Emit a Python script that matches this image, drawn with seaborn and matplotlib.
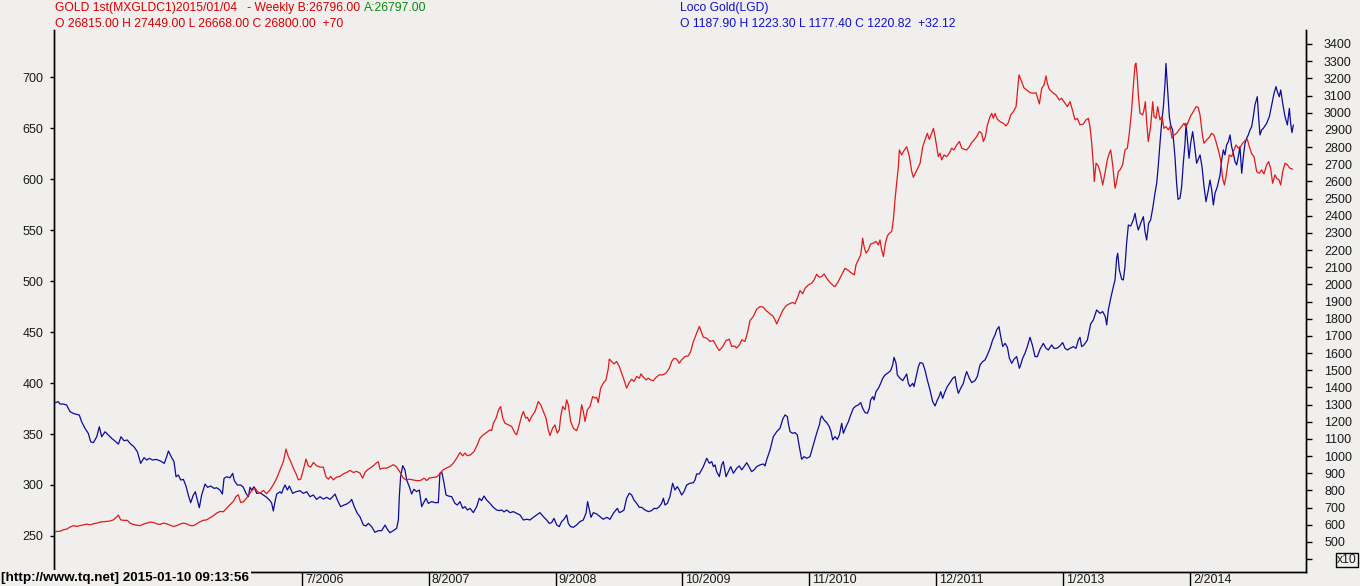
import matplotlib
matplotlib.use("Agg")
import matplotlib.pyplot as plt
import matplotlib.transforms as mtransforms
import seaborn as sns

# Loco Gold (left scale); x is decimal year
loco_year = [
    2004.392, 2004.420, 2004.434, 2004.463, 2004.491, 2004.520, 2004.548, 2004.577, 2004.599, 2004.619,
    2004.648, 2004.676, 2004.696, 2004.719, 2004.748, 2004.770, 2004.790, 2004.819, 2004.847, 2004.876,
    2004.904, 2004.933, 2004.955, 2004.981, 2005.009, 2005.038, 2005.066, 2005.095, 2005.123, 2005.152,
    2005.175, 2005.197, 2005.226, 2005.254, 2005.288, 2005.325, 2005.345, 2005.360, 2005.388, 2005.408,
    2005.425, 2005.445, 2005.465, 2005.488, 2005.510, 2005.530, 2005.550, 2005.573, 2005.590, 2005.607,
    2005.624, 2005.644, 2005.673, 2005.695, 2005.721, 2005.750, 2005.772, 2005.801, 2005.821, 2005.835,
    2005.858, 2005.886, 2005.909, 2005.923, 2005.949, 2005.977, 2006.000, 2006.023, 2006.043, 2006.057,
    2006.071, 2006.091, 2006.114, 2006.142, 2006.171, 2006.199, 2006.228, 2006.242, 2006.256, 2006.270,
    2006.285, 2006.313, 2006.327, 2006.342, 2006.356, 2006.376, 2006.393, 2006.421, 2006.450, 2006.484,
    2006.512, 2006.541, 2006.569, 2006.598, 2006.626, 2006.655, 2006.683, 2006.712, 2006.740, 2006.763,
    2006.783, 2006.803, 2006.831, 2006.860, 2006.882, 2006.911, 2006.925, 2006.945, 2006.973, 2006.996,
    2007.025, 2007.047, 2007.068, 2007.096, 2007.124, 2007.153, 2007.181, 2007.210, 2007.230, 2007.252,
    2007.281, 2007.309, 2007.324, 2007.332, 2007.343, 2007.361, 2007.380, 2007.395, 2007.417, 2007.437,
    2007.457, 2007.480, 2007.503, 2007.523, 2007.537, 2007.560, 2007.580, 2007.608, 2007.637, 2007.665,
    2007.679, 2007.696, 2007.714, 2007.731, 2007.751, 2007.779, 2007.807, 2007.827, 2007.850, 2007.873,
    2007.893, 2007.913, 2007.936, 2007.964, 2007.993, 2008.015, 2008.035, 2008.055, 2008.078, 2008.106,
    2008.135, 2008.163, 2008.186, 2008.206, 2008.226, 2008.249, 2008.277, 2008.306, 2008.334, 2008.363,
    2008.391, 2008.420, 2008.448, 2008.476, 2008.505, 2008.533, 2008.562, 2008.590, 2008.613, 2008.633,
    2008.653, 2008.676, 2008.698, 2008.718, 2008.738, 2008.761, 2008.775, 2008.795, 2008.818, 2008.846,
    2008.875, 2008.903, 2008.926, 2008.940, 2008.955, 2008.969, 2008.989, 2009.017, 2009.046, 2009.074,
    2009.103, 2009.131, 2009.160, 2009.182, 2009.194, 2009.211, 2009.231, 2009.251, 2009.273, 2009.296,
    2009.316, 2009.336, 2009.359, 2009.382, 2009.401, 2009.430, 2009.458, 2009.487, 2009.507, 2009.530,
    2009.552, 2009.572, 2009.587, 2009.601, 2009.621, 2009.643, 2009.666, 2009.686, 2009.706, 2009.723,
    2009.743, 2009.763, 2009.786, 2009.814, 2009.843, 2009.857, 2009.871, 2009.894, 2009.928, 2009.957,
    2009.980, 2010.000, 2010.014, 2010.028, 2010.042, 2010.065, 2010.085, 2010.099, 2010.122, 2010.142,
    2010.162, 2010.185, 2010.213, 2010.236, 2010.256, 2010.276, 2010.299, 2010.321, 2010.341, 2010.361,
    2010.384, 2010.412, 2010.441, 2010.455, 2010.469, 2010.498, 2010.526, 2010.555, 2010.583, 2010.606,
    2010.626, 2010.646, 2010.654, 2010.669, 2010.691, 2010.711, 2010.731, 2010.748, 2010.768, 2010.788,
    2010.811, 2010.839, 2010.868, 2010.896, 2010.919, 2010.930, 2010.939, 2010.959, 2010.982, 2011.004,
    2011.019, 2011.033, 2011.053, 2011.073, 2011.090, 2011.110, 2011.124, 2011.147, 2011.167, 2011.187,
    2011.209, 2011.232, 2011.252, 2011.272, 2011.289, 2011.309, 2011.329, 2011.346, 2011.357, 2011.375,
    2011.386, 2011.403, 2011.423, 2011.443, 2011.460, 2011.480, 2011.508, 2011.528, 2011.545, 2011.557,
    2011.574, 2011.585, 2011.608, 2011.631, 2011.651, 2011.665, 2011.679, 2011.693, 2011.716, 2011.727,
    2011.745, 2011.765, 2011.779, 2011.802, 2011.821, 2011.841, 2011.864, 2011.887, 2011.907, 2011.927,
    2011.944, 2011.955, 2011.972, 2011.992, 2012.012, 2012.035, 2012.058, 2012.078, 2012.092, 2012.106,
    2012.126, 2012.149, 2012.163, 2012.177, 2012.200, 2012.220, 2012.248, 2012.268, 2012.291, 2012.314,
    2012.334, 2012.354, 2012.377, 2012.399, 2012.419, 2012.433, 2012.453, 2012.468, 2012.485, 2012.505,
    2012.525, 2012.542, 2012.562, 2012.581, 2012.604, 2012.627, 2012.638, 2012.655, 2012.675, 2012.695,
    2012.718, 2012.738, 2012.761, 2012.781, 2012.803, 2012.832, 2012.855, 2012.875, 2012.903, 2012.923,
    2012.946, 2012.968, 2012.997, 2013.017, 2013.037, 2013.060, 2013.088, 2013.111, 2013.131, 2013.145,
    2013.159, 2013.179, 2013.208, 2013.236, 2013.259, 2013.287, 2013.316, 2013.339, 2013.361, 2013.373,
    2013.387, 2013.407, 2013.430, 2013.444, 2013.458, 2013.467, 2013.481, 2013.501, 2013.515, 2013.529,
    2013.543, 2013.558, 2013.578, 2013.600, 2013.615, 2013.629, 2013.643, 2013.663, 2013.686, 2013.700,
    2013.714, 2013.731, 2013.748, 2013.766, 2013.785, 2013.800, 2013.814, 2013.828, 2013.842, 2013.857,
    2013.871, 2013.879, 2013.891, 2013.899, 2013.908, 2013.919, 2013.936, 2013.956, 2013.970, 2013.982,
    2013.999, 2014.013, 2014.027, 2014.042, 2014.050, 2014.062, 2014.076, 2014.090, 2014.107, 2014.124,
    2014.141, 2014.155, 2014.170, 2014.187, 2014.204, 2014.221, 2014.241, 2014.255, 2014.269, 2014.284,
    2014.298, 2014.318, 2014.341, 2014.355, 2014.369, 2014.383, 2014.397, 2014.412, 2014.426, 2014.440,
    2014.454, 2014.469, 2014.483, 2014.497, 2014.511, 2014.526, 2014.540, 2014.554, 2014.568, 2014.582,
    2014.597, 2014.611, 2014.625, 2014.639, 2014.659, 2014.671, 2014.682, 2014.696, 2014.711, 2014.739,
    2014.762, 2014.782, 2014.802, 2014.819, 2014.830, 2014.847, 2014.859, 2014.876, 2014.896, 2014.916,
    2014.933, 2014.944, 2014.955, 2014.967,
]
loco_val = [
    380.7, 381.7, 379.4, 379.4, 378.4, 371.9, 370.2, 369.2, 368.6, 362.0,
    355.5, 350.6, 342.4, 341.5, 347.3, 357.1, 347.3, 352.2, 349.0, 345.7,
    343.1, 340.1, 347.3, 343.4, 344.1, 340.1, 337.5, 332.6, 321.2, 326.8,
    324.5, 326.1, 324.5, 325.1, 323.8, 321.2, 327.7, 333.3, 326.8, 322.8,
    308.1, 309.8, 304.9, 305.5, 299.0, 290.2, 282.6, 290.2, 293.4, 285.3,
    277.7, 290.2, 300.9, 297.7, 299.0, 296.7, 297.3, 295.0, 291.1, 306.5,
    308.1, 307.1, 311.4, 304.2, 300.0, 300.0, 297.7, 291.8, 288.5, 297.7,
    295.1, 298.3, 291.8, 292.4, 290.2, 287.9, 284.6, 282.0, 274.5, 283.6,
    291.1, 293.4, 291.8, 296.7, 300.0, 295.1, 299.0, 291.8, 293.4, 294.4,
    291.8, 293.4, 288.5, 290.2, 285.9, 288.5, 286.2, 287.9, 285.9, 288.5,
    291.1, 285.3, 278.7, 280.4, 281.3, 283.6, 285.9, 279.4, 272.2, 268.9,
    260.7, 259.8, 262.4, 259.1, 253.6, 255.2, 255.2, 260.7, 256.5, 253.2,
    255.3, 257.5, 265.7, 288.6, 308.2, 319.0, 314.7, 304.9, 298.4, 291.2,
    295.8, 293.5, 295.1, 278.8, 282.0, 286.9, 282.0, 283.7, 282.7, 282.7,
    311.5, 312.1, 301.7, 290.2, 289.2, 288.6, 282.0, 280.4, 283.7, 277.1,
    278.8, 275.5, 277.1, 272.9, 278.8, 287.0, 284.7, 289.2, 285.3, 282.0,
    278.1, 275.5, 274.9, 275.5, 273.6, 275.5, 272.9, 273.9, 272.2, 270.6,
    265.7, 266.4, 265.7, 268.3, 270.6, 272.9, 269.0, 265.7, 262.4, 263.1,
    267.3, 260.8, 259.2, 264.1, 266.4, 270.6, 262.4, 259.2, 258.5, 260.8,
    264.1, 265.7, 272.2, 283.7, 275.5, 268.3, 272.9, 271.6, 269.0, 266.4,
    268.3, 266.4, 272.2, 275.5, 277.1, 272.9, 273.9, 275.5, 287.0, 291.9,
    290.2, 285.3, 282.0, 278.1, 278.1, 275.5, 273.9, 274.9, 277.1, 276.8,
    278.8, 282.0, 287.0, 280.4, 282.0, 288.6, 301.7, 295.1, 298.4, 295.1,
    290.2, 293.5, 300.0, 301.7, 302.3, 304.9, 310.8, 310.8, 318.0, 326.2,
    321.3, 322.9, 318.0, 319.7, 313.1, 308.2, 319.7, 322.9, 308.2, 313.1,
    318.0, 311.5, 316.4, 318.7, 314.8, 318.0, 321.9, 317.4, 313.1, 314.8,
    318.0, 319.7, 320.6, 318.7, 324.6, 334.4, 347.4, 352.3, 355.6, 364.4,
    368.7, 367.0, 360.5, 352.3, 350.7, 351.4, 349.1, 337.6, 325.2, 327.8,
    326.2, 327.8, 339.3, 350.7, 358.9, 365.4, 367.7, 363.8, 361.2, 357.2,
    352.3, 344.2, 347.4, 344.8, 349.1, 360.5, 350.7, 357.2, 362.1, 368.7,
    375.2, 377.5, 378.5, 380.8, 375.2, 371.0, 370.3, 375.2, 383.4, 386.6,
    383.4, 391.5, 394.8, 399.7, 404.6, 407.9, 410.2, 412.1, 417.7, 425.2,
    419.3, 407.9, 404.6, 402.3, 406.3, 408.9, 399.7, 396.5, 399.7, 396.5,
    405.6, 416.1, 420.0, 419.3, 412.8, 403.0, 393.2, 381.7, 377.5, 383.4,
    387.3, 391.5, 385.0, 391.5, 396.5, 400.4, 404.6, 406.3, 396.5, 389.9,
    394.8, 399.7, 406.3, 411.2, 404.6, 400.4, 402.3, 406.3, 417.7, 421.0,
    422.6, 427.5, 434.0, 442.2, 447.1, 452.0, 455.3, 445.5, 435.7, 438.9,
    435.0, 424.2, 419.3, 423.2, 425.9, 414.4, 417.7, 424.2, 429.1, 435.7,
    444.8, 437.3, 425.9, 425.9, 433.0, 438.9, 434.0, 432.4, 437.3, 434.0,
    434.0, 435.7, 439.6, 434.0, 432.4, 434.0, 435.7, 434.0, 442.2, 444.8,
    435.7, 437.3, 442.2, 457.9, 461.8, 471.6, 468.3, 470.0, 465.1, 456.9,
    471.6, 483.0, 494.5, 501.0, 522.3, 527.2, 510.8, 501.7, 501.0, 514.1,
    537.0, 554.9, 553.9, 559.8, 566.4, 556.6, 550.0, 556.6, 563.1, 548.4,
    540.2, 556.6, 559.8, 571.3, 586.0, 595.8, 613.8, 635.0, 654.6, 670.9,
    693.8, 713.4, 692.2, 677.5, 661.1, 653.0, 648.1, 621.9, 595.8, 580.1,
    581.1, 592.5, 615.4, 635.0, 654.6, 638.3, 620.3, 635.0, 646.4, 631.7,
    615.4, 619.3, 623.6, 612.1, 592.5, 577.8, 589.2, 599.0, 589.9, 574.5,
    586.0, 592.5, 604.0, 618.7, 628.5, 623.6, 633.4, 636.6, 643.2, 631.7,
    625.2, 617.0, 613.8, 621.9, 631.7, 605.6, 621.9, 635.0, 639.9, 643.2,
    648.1, 651.3, 661.1, 672.6, 680.7, 659.5, 643.2, 648.1, 649.7, 654.6,
    661.1, 672.6, 684.0, 690.6, 685.7, 680.7, 687.3, 674.2, 661.1, 653.0,
    669.3, 654.6, 645.5, 653.0,
]

# GOLD 1st MCX (right scale, x10), same tracing
mcx_year = [
    2004.377, 2004.406, 2004.434, 2004.463, 2004.491, 2004.520, 2004.548, 2004.577, 2004.605, 2004.634,
    2004.662, 2004.691, 2004.719, 2004.748, 2004.776, 2004.804, 2004.833, 2004.861, 2004.890, 2004.913,
    2004.933, 2004.952, 2004.981, 2005.009, 2005.032, 2005.061, 2005.089, 2005.118, 2005.146, 2005.175,
    2005.203, 2005.231, 2005.260, 2005.288, 2005.317, 2005.345, 2005.374, 2005.402, 2005.431, 2005.459,
    2005.488, 2005.516, 2005.545, 2005.573, 2005.602, 2005.630, 2005.658, 2005.687, 2005.715, 2005.744,
    2005.772, 2005.801, 2005.829, 2005.858, 2005.886, 2005.914, 2005.937, 2005.957, 2005.977, 2006.000,
    2006.028, 2006.057, 2006.085, 2006.100, 2006.120, 2006.142, 2006.171, 2006.199, 2006.228, 2006.256,
    2006.285, 2006.313, 2006.342, 2006.364, 2006.384, 2006.404, 2006.427, 2006.450, 2006.470, 2006.490,
    2006.512, 2006.535, 2006.555, 2006.575, 2006.598, 2006.626, 2006.655, 2006.683, 2006.706, 2006.726,
    2006.746, 2006.769, 2006.797, 2006.826, 2006.854, 2006.882, 2006.911, 2006.939, 2006.968, 2006.996,
    2007.019, 2007.039, 2007.059, 2007.082, 2007.110, 2007.133, 2007.153, 2007.167, 2007.190, 2007.224,
    2007.252, 2007.281, 2007.304, 2007.324, 2007.343, 2007.366, 2007.389, 2007.417, 2007.446, 2007.474,
    2007.503, 2007.523, 2007.543, 2007.566, 2007.588, 2007.617, 2007.645, 2007.665, 2007.685, 2007.708,
    2007.731, 2007.765, 2007.793, 2007.822, 2007.850, 2007.873, 2007.893, 2007.913, 2007.941, 2007.970,
    2007.998, 2008.021, 2008.049, 2008.078, 2008.106, 2008.121, 2008.135, 2008.158, 2008.180, 2008.197,
    2008.215, 2008.234, 2008.263, 2008.291, 2008.320, 2008.334, 2008.357, 2008.377, 2008.391, 2008.411,
    2008.425, 2008.442, 2008.462, 2008.491, 2008.519, 2008.539, 2008.562, 2008.585, 2008.604, 2008.619,
    2008.641, 2008.661, 2008.681, 2008.698, 2008.710, 2008.727, 2008.747, 2008.761, 2008.775, 2008.795,
    2008.818, 2008.846, 2008.869, 2008.889, 2008.903, 2008.918, 2008.938, 2008.960, 2008.983, 2009.003,
    2009.017, 2009.031, 2009.051, 2009.074, 2009.097, 2009.117, 2009.125, 2009.145, 2009.165, 2009.188,
    2009.211, 2009.231, 2009.251, 2009.273, 2009.296, 2009.316, 2009.336, 2009.359, 2009.382, 2009.396,
    2009.416, 2009.439, 2009.458, 2009.478, 2009.501, 2009.524, 2009.552, 2009.581, 2009.609, 2009.638,
    2009.658, 2009.678, 2009.700, 2009.723, 2009.743, 2009.772, 2009.800, 2009.820, 2009.843, 2009.871,
    2009.894, 2009.928, 2009.957, 2009.985, 2010.014, 2010.042, 2010.065, 2010.094, 2010.122, 2010.150,
    2010.170, 2010.193, 2010.213, 2010.236, 2010.256, 2010.284, 2010.304, 2010.327, 2010.355, 2010.384,
    2010.412, 2010.441, 2010.464, 2010.492, 2010.521, 2010.540, 2010.555, 2010.577, 2010.606, 2010.634,
    2010.663, 2010.691, 2010.711, 2010.731, 2010.754, 2010.777, 2010.797, 2010.825, 2010.854, 2010.874,
    2010.896, 2010.919, 2010.939, 2010.959, 2010.982, 2011.010, 2011.039, 2011.053, 2011.081, 2011.110,
    2011.138, 2011.167, 2011.195, 2011.218, 2011.232, 2011.252, 2011.272, 2011.289, 2011.301, 2011.318,
    2011.338, 2011.357, 2011.380, 2011.403, 2011.423, 2011.437, 2011.451, 2011.466, 2011.483, 2011.500,
    2011.517, 2011.537, 2011.551, 2011.565, 2011.579, 2011.594, 2011.602, 2011.622, 2011.642, 2011.665,
    2011.688, 2011.708, 2011.722, 2011.745, 2011.765, 2011.779, 2011.802, 2011.821, 2011.841, 2011.858,
    2011.878, 2011.893, 2011.907, 2011.921, 2011.935, 2011.950, 2011.964, 2011.984, 2012.006, 2012.029,
    2012.049, 2012.069, 2012.092, 2012.115, 2012.135, 2012.154, 2012.177, 2012.200, 2012.220, 2012.240,
    2012.263, 2012.285, 2012.305, 2012.320, 2012.337, 2012.354, 2012.377, 2012.391, 2012.405, 2012.419,
    2012.439, 2012.462, 2012.490, 2012.513, 2012.533, 2012.553, 2012.576, 2012.599, 2012.624, 2012.667,
    2012.718, 2012.746, 2012.769, 2012.798, 2012.818, 2012.838, 2012.855, 2012.866, 2012.883, 2012.912,
    2012.940, 2012.968, 2012.988, 2013.017, 2013.037, 2013.060, 2013.082, 2013.102, 2013.122, 2013.145,
    2013.173, 2013.196, 2013.216, 2013.230, 2013.245, 2013.259, 2013.267, 2013.282, 2013.301, 2013.316,
    2013.339, 2013.358, 2013.378, 2013.395, 2013.407, 2013.424, 2013.444, 2013.458, 2013.472, 2013.487,
    2013.509, 2013.529, 2013.549, 2013.566, 2013.586, 2013.600, 2013.615, 2013.623, 2013.635, 2013.643,
    2013.657, 2013.680, 2013.691, 2013.703, 2013.714, 2013.728, 2013.748, 2013.766, 2013.777, 2013.794,
    2013.808, 2013.828, 2013.845, 2013.862, 2013.879, 2013.899, 2013.914, 2013.931, 2013.948, 2013.970,
    2013.993, 2014.013, 2014.033, 2014.050, 2014.070, 2014.090, 2014.113, 2014.136, 2014.155, 2014.170,
    2014.192, 2014.204, 2014.227, 2014.249, 2014.269, 2014.289, 2014.306, 2014.326, 2014.346, 2014.363,
    2014.378, 2014.392, 2014.406, 2014.420, 2014.440, 2014.460, 2014.477, 2014.497, 2014.517, 2014.534,
    2014.554, 2014.574, 2014.591, 2014.611, 2014.631, 2014.654, 2014.676, 2014.696, 2014.716, 2014.739,
    2014.756, 2014.773, 2014.790, 2014.810, 2014.824, 2014.844, 2014.859, 2014.876, 2014.896, 2014.916,
    2014.938, 2014.961,
]
mcx_val = [
    552, 562, 562, 571, 575, 587, 595, 591, 595, 600,
    604, 600, 606, 610, 616, 618, 620, 622, 629, 643,
    657, 629, 626, 626, 610, 602, 598, 595, 604, 610,
    616, 614, 606, 602, 610, 606, 598, 591, 595, 604,
    610, 606, 596, 595, 606, 618, 626, 629, 641, 653,
    668, 678, 676, 697, 717, 736, 765, 775, 730, 734,
    756, 785, 808, 814, 794, 785, 800, 781, 804, 833,
    872, 920, 969, 1041, 998, 969, 930, 897, 862, 866,
    920, 983, 944, 936, 963, 944, 936, 936, 878, 866,
    882, 862, 878, 882, 897, 905, 917, 905, 911, 901,
    872, 905, 920, 930, 944, 959, 967, 924, 930, 930,
    940, 950, 940, 921, 901, 872, 862, 866, 862, 858,
    857, 862, 872, 858, 872, 876, 878, 886, 905, 921,
    930, 940, 959, 988, 1021, 1002, 1018, 1002, 1008, 1027,
    1066, 1105, 1124, 1138, 1153, 1149, 1192, 1221, 1270, 1289,
    1221, 1192, 1182, 1173, 1134, 1124, 1182, 1235, 1260, 1221,
    1227, 1202, 1231, 1260, 1318, 1299, 1260, 1221, 1153, 1120,
    1163, 1182, 1134, 1153, 1231, 1289, 1270, 1328, 1299, 1202,
    1163, 1148, 1192, 1299, 1260, 1202, 1270, 1289, 1347, 1338,
    1343, 1312, 1396, 1425, 1444, 1512, 1565, 1551, 1537, 1551,
    1522, 1483, 1444, 1396, 1429, 1448, 1435, 1464, 1454, 1479,
    1460, 1444, 1454, 1444, 1439, 1458, 1473, 1473, 1483, 1512,
    1551, 1570, 1565, 1541, 1561, 1580, 1584, 1609, 1667, 1716,
    1755, 1693, 1687, 1668, 1673, 1638, 1615, 1638, 1673, 1681,
    1638, 1642, 1629, 1648, 1677, 1668, 1716, 1790, 1813, 1856,
    1871, 1867, 1848, 1832, 1817, 1794, 1770, 1803, 1848, 1875,
    1887, 1895, 1887, 1920, 1964, 1945, 1978, 1997, 2007, 2026,
    2059, 2042, 2046, 2061, 2036, 2011, 1992, 1988, 2017, 2056,
    2094, 2081, 2065, 2056, 2114, 2143, 2172, 2269, 2220, 2182,
    2201, 2236, 2240, 2250, 2230, 2259, 2201, 2162, 2240, 2283,
    2298, 2308, 2376, 2492, 2589, 2686, 2783, 2754, 2779, 2802,
    2744, 2657, 2624, 2657, 2686, 2705, 2802, 2841, 2880, 2845,
    2880, 2909, 2861, 2802, 2744, 2764, 2725, 2754, 2744, 2764,
    2793, 2783, 2812, 2832, 2793, 2787, 2783, 2802, 2826, 2841,
    2861, 2890, 2880, 2832, 2861, 2929, 2977, 2996, 2967, 2996,
    2962, 2948, 2938, 2923, 2942, 2987, 3006, 3035, 3220, 3144,
    3117, 3113, 3117, 3051, 3142, 3161, 3214, 3171, 3136, 3117,
    3103, 3074, 3084, 3055, 3035, 3064, 3012, 2958, 2967, 2929,
    2934, 2958, 2967, 2919, 2822, 2696, 2599, 2706, 2690, 2657,
    2579, 2647, 2725, 2764, 2783, 2696, 2560, 2599, 2657, 2667,
    2696, 2783, 2793, 2880, 3016, 3152, 3278, 3288, 3200, 3103,
    2997, 2987, 3016, 3064, 2948, 2832, 2919, 3064, 2977, 2967,
    3035, 2958, 2977, 2909, 2919, 2900, 2919, 2851, 2870, 2880,
    2903, 2919, 2938, 2915, 2948, 2981, 3006, 3035, 3031, 2987,
    2861, 2822, 2841, 2857, 2880, 2870, 2832, 2783, 2725, 2618,
    2579, 2628, 2696, 2754, 2744, 2783, 2812, 2793, 2803, 2822,
    2837, 2845, 2803, 2760, 2744, 2657, 2647, 2667, 2643, 2696,
    2715, 2676, 2589, 2638, 2618, 2609, 2579, 2657, 2706, 2696,
    2676, 2671,
]

left_ticks = [250, 300, 350, 400, 450, 500, 550, 600, 650, 700]
right_ticks = list(range(400, 3500, 100))
date_labels = ["7/2006", "8/2007", "9/2008", "10/2009", "11/2010", "12/2011", "1/2013", "2/2014"]

BG = "#f0efee"
RED = "#e01a1a"
BLUE = "#0c0c96"

sns.set_theme(style="white")
plt.rcParams["font.family"] = ["Liberation Sans", "DejaVu Sans"]

W, H = 1360, 586
fig = plt.figure(figsize=(W / 100, H / 100), dpi=100, facecolor=BG)
ax = fig.add_axes([54 / W, 14 / H, 1252 / W, 542 / H])
ax.set_facecolor(BG)
ax2 = ax.twinx()

sns.lineplot(x=loco_year, y=loco_val, ax=ax, color=BLUE, lw=0.9, estimator=None, sort=False)
sns.lineplot(x=mcx_year, y=mcx_val, ax=ax2, color=RED, lw=0.9, estimator=None, sort=False)

ax.set_xlim(2004.383, 2015.075)
ax.set_ylim(214.7, 746.1)
ax2.set_ylim(325.3, 3481.5)

for a in (ax, ax2):
    a.spines["top"].set_visible(False)
    for s in ("left", "right", "bottom"):
        a.spines[s].set_color("black")
        a.spines[s].set_linewidth(1)
    a.set_xlabel("")
    a.set_ylabel("")
    a.grid(False)

ax.set_yticks(left_ticks)
ax.set_yticklabels([str(v) for v in left_ticks])
ax.tick_params(axis="y", left=True, direction="out", length=3, width=1,
               color="black", pad=4.5, labelsize=9, labelcolor="#1a1a1a")
ax2.set_yticks(right_ticks)
ax2.set_yticklabels([str(v) if v >= 500 else "" for v in right_ticks])
ax2.tick_params(axis="y", right=True, direction="out", length=4.5, width=1,
                color="black", pad=8.5, labelsize=9, labelcolor="#1a1a1a")

# month/year ticks with the label sitting to the right of the tick
tick_pos = [int(s.split("/")[1]) + (int(s.split("/")[0]) - 1) / 12 for s in date_labels]
ax.set_xticks(tick_pos)
ax.set_xticklabels([])
ax.tick_params(axis="x", bottom=True, direction="out", length=10, width=1, color="black")
off = mtransforms.ScaledTranslation(3 / 100, -2 / 100, fig.dpi_scale_trans)
for p, lab in zip(tick_pos, date_labels):
    ax.text(p, 0, lab, transform=ax.get_xaxis_transform() + off, ha="left", va="top",
            fontsize=9, color="#1a1a1a", clip_on=False)

# header
fs = 8.7
head = fig.text(55 / W, 1 - 8 / H, "GOLD 1st(MXGLDC1)2015/01/04   - Weekly B:26796.00 ",
                color="#d80000", fontsize=fs, va="center")
fig.add_artist(plt.Annotation("A:26797.00", xy=(1, 0.5), xycoords=head, xytext=(0, 0),
                              textcoords="offset points", color="#0a8a0a", fontsize=fs,
                              va="center", ha="left"))
fig.text(55 / W, 1 - 24 / H, "O 26815.00 H 27449.00 L 26668.00 C 26800.00  +70",
         color="#d80000", fontsize=fs, va="center")
fig.text(680 / W, 1 - 8 / H, "Loco Gold(LGD)", color="#1010c8", fontsize=fs, va="center")
fig.text(680 / W, 1 - 24 / H, "O 1187.90 H 1223.30 L 1177.40 C 1220.82  +32.12",
         color="#1010c8", fontsize=fs, va="center")

fig.text(1 / W, 1 - 578 / H, "[http://www.tq.net] 2015-01-10 09:13:56",
         family=["Liberation Sans Narrow", "Liberation Sans"], fontweight="bold",
         fontsize=9.7, color="black", va="center", ha="left", zorder=10,
         bbox=dict(boxstyle="square,pad=0.15", fc=BG, ec="none"))
fig.text(1337 / W, 1 - 560 / H, "x10", fontsize=8.7, color="#1a1a1a", va="center", ha="left",
         bbox=dict(boxstyle="square,pad=0.12", fc=BG, ec="black", lw=1))

fig.savefig("out.png", dpi=100, facecolor=BG)
